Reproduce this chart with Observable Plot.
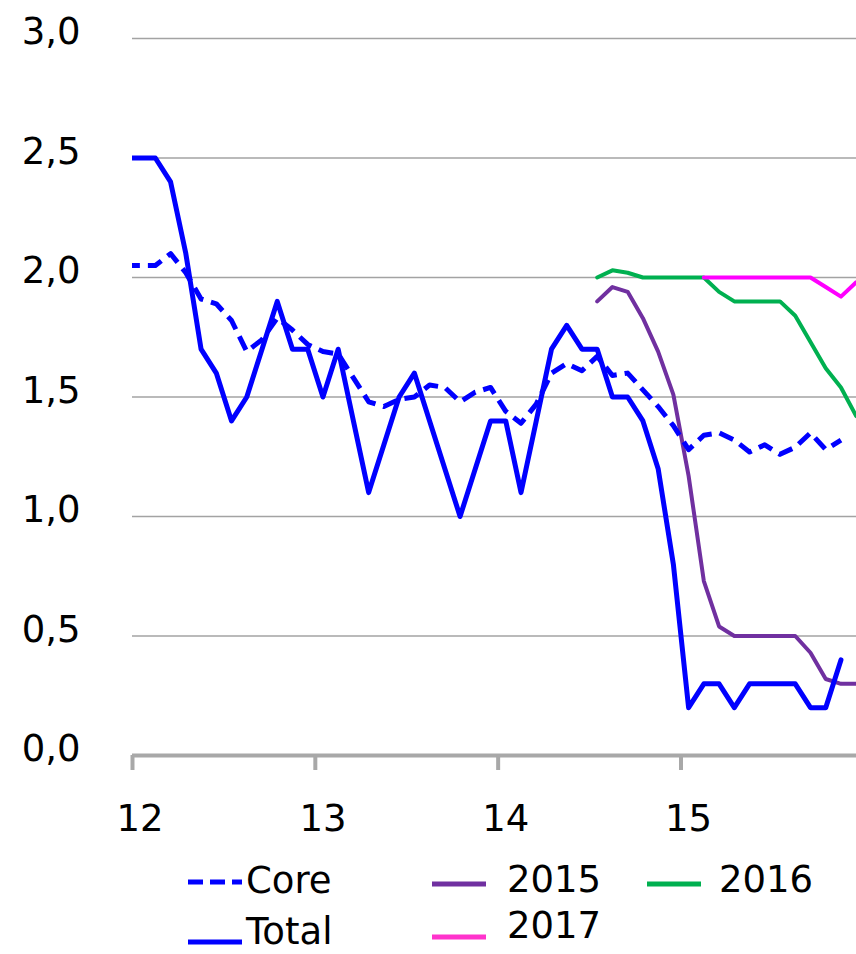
<!DOCTYPE html>
<html>
<head>
<meta charset="utf-8">
<script src="https://cdn.jsdelivr.net/npm/d3@7"></script>
<script src="https://cdn.jsdelivr.net/npm/@observablehq/plot@0.6"></script>
<style>
  html, body { margin: 0; padding: 0; background: #fff; }
  #wrap { width: 856px; font-family: "DejaVu Sans", sans-serif; }
  #legend { position: relative; width: 856px; height: 99px; font-size: 37px; color: #000; }
  .item { position: absolute; display: flex; align-items: center; height: 30px; line-height: 30px; white-space: nowrap; }
  .item svg { display: block; }
</style>
</head>
<body>
<div id="wrap"></div>
<script>
// ---- data (monthly, values in %) ----
// month index: -1 = Dec 2011, 0 = Jan 2012, ... 47 = Dec 2015
const totalStart = -1;
const total = [2.5, 2.5, 2.5, 2.4, 2.1, 1.7, 1.6, 1.4, 1.5, 1.7, 1.9, 1.7,
               1.7, 1.5, 1.7, 1.4, 1.1, 1.3, 1.5, 1.6, 1.4, 1.2, 1.0, 1.2,
               1.4, 1.4, 1.1, 1.4, 1.7, 1.8, 1.7, 1.7, 1.5, 1.5, 1.4, 1.2,
               0.8, 0.2, 0.3, 0.3, 0.2, 0.3, 0.3, 0.3, 0.3, 0.2, 0.2, 0.4];
const coreStart = -1;
const core = [2.05, 2.05, 2.05, 2.1, 2.02, 1.91, 1.89, 1.82, 1.69, 1.74, 1.83, 1.78,
              1.72, 1.69, 1.68, 1.58, 1.48, 1.46, 1.49, 1.5, 1.55, 1.54, 1.48, 1.52,
              1.54, 1.44, 1.39, 1.47, 1.6, 1.64, 1.61, 1.67, 1.59, 1.6, 1.53, 1.46,
              1.38, 1.28, 1.34, 1.35, 1.32, 1.27, 1.3, 1.26, 1.29, 1.35, 1.28, 1.32];
const f2015Start = 30;
const f2015 = [1.9, 1.96, 1.94, 1.83, 1.69, 1.51, 1.17, 0.73, 0.54, 0.5, 0.5, 0.5,
               0.5, 0.5, 0.43, 0.32, 0.3, 0.3];
const f2016Start = 30;
const f2016 = [2.0, 2.03, 2.02, 2.0, 2.0, 2.0, 2.0, 2.0, 1.94, 1.9, 1.9, 1.9,
               1.9, 1.84, 1.73, 1.62, 1.54, 1.42];
const f2017Start = 37;
const f2017 = [2.0, 2.0, 2.0, 2.0, 2.0, 2.0, 2.0, 2.0, 1.96, 1.92, 1.98];

const yTicks = [0, 0.5, 1.0, 1.5, 2.0, 2.5, 3.0];
const xTicks = [12, 13, 14, 15];
const xTickLabels = ["12", "13", "14", "15"];

const colors = {core: "#0000ff", total: "#0000ff", f2015: "#7030a0", f2016: "#00b050", f2017: "#ff00ff"};

// month index -> position on the year axis (mid-month)
const toX = k => 12 + (k + 0.5) / 12;
const rows = (vals, start) => vals.map((v, i) => ({x: toX(start + i), y: v}));

const fmt = d => d3.format(".1f")(d).replace(".", ",");

const chart = Plot.plot({
  width: 856,
  height: 855,
  marginLeft: 132,
  marginRight: 0,
  marginTop: 38,
  marginBottom: 100,
  x: {domain: [12, 15.96], label: null},
  y: {domain: [0, 3], label: null},
  style: {fontFamily: "DejaVu Sans", fontSize: "37px", color: "#000", background: "#fff", overflow: "hidden"},
  marks: [
    Plot.gridY({ticks: yTicks.filter(d => d > 0), stroke: "#a3a3a3", strokeOpacity: 1, strokeWidth: 1.5}),
    Plot.axisY({ticks: yTicks, tickSize: 0, tickPadding: 52, tickFormat: fmt, fontSize: 37, dy: -6, label: null}),
    Plot.ruleY([0], {stroke: "#a8a8a8", strokeWidth: 4}),
    Plot.axisX({ticks: xTicks, tickSize: 15, stroke: "#a8a8a8", strokeWidth: 4, tickFormat: () => "", label: null}),
    Plot.axisX({ticks: xTicks.map(t => t + 0.5 / 12), tickSize: 0, tickPadding: 49, fontSize: 37,
                tickFormat: (d, i) => xTickLabels[i], label: null}),
    Plot.line(rows(f2015, f2015Start), {x: "x", y: "y", stroke: colors.f2015, strokeWidth: 4, clip: true}),
    Plot.line(rows(f2016, f2016Start), {x: "x", y: "y", stroke: colors.f2016, strokeWidth: 4, clip: true}),
    Plot.line(rows(f2017, f2017Start), {x: "x", y: "y", stroke: colors.f2017, strokeWidth: 4, clip: true}),
    Plot.line(rows(core, coreStart), {x: "x", y: "y", stroke: colors.core, strokeWidth: 5, strokeDasharray: "15,8", strokeLinecap: "butt", clip: true}),
    Plot.line(rows(total, totalStart), {x: "x", y: "y", stroke: colors.total, strokeWidth: 5, clip: true})
  ]
});

const wrap = document.getElementById("wrap");
wrap.appendChild(chart);

// ---- legend ----
const legendItems = [
  {label: "Core",  color: colors.core,  dash: "15,7", left: 188, top: 11, lineDy: 1,  gap: 4},
  {label: "Total", color: colors.total, dash: null,   left: 188, top: 62, lineDy: 10, gap: 4},
  {label: "2015",  color: colors.f2015, dash: null,   left: 432, top: 10, lineDy: 4,  gap: 21},
  {label: "2017",  color: "#ff33cc",    dash: null,   left: 432, top: 56, lineDy: 11, gap: 21},
  {label: "2016",  color: colors.f2016, dash: null,   left: 647, top: 10, lineDy: 4,  gap: 18}
];
const legend = document.createElement("div");
legend.id = "legend";
for (const it of legendItems) {
  const d = document.createElement("div");
  d.className = "item";
  d.style.left = it.left + "px";
  d.style.top = it.top + "px";
  const cy = 15 + it.lineDy;
  d.innerHTML = `<svg width="54" height="30" style="overflow:visible"><line x1="0" x2="54" y1="${cy}" y2="${cy}" stroke="${it.color}" stroke-width="5" ${it.dash ? `stroke-dasharray="${it.dash}"` : ""}/></svg><span style="margin-left:${it.gap}px">${it.label}</span>`;
  legend.appendChild(d);
}
wrap.appendChild(legend);
</script>
</body>
</html>
